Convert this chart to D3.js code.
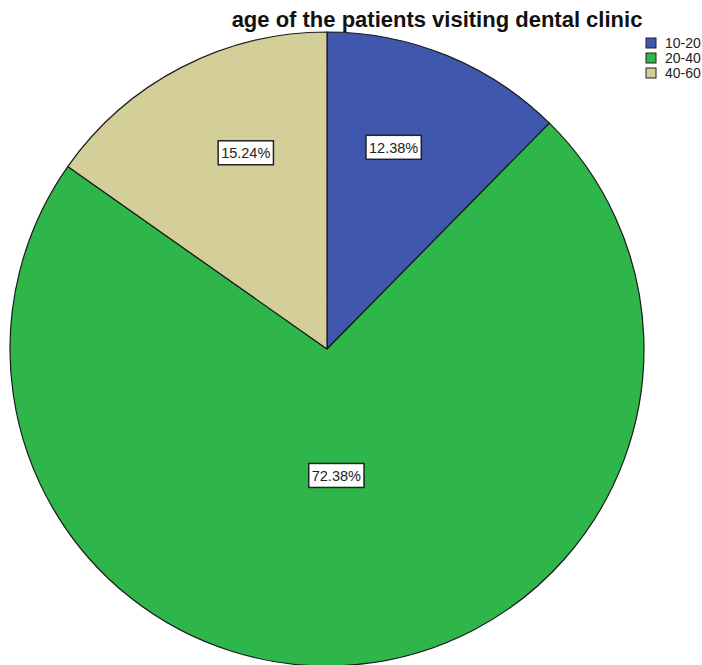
<!DOCTYPE html>
<html>
<head>
<meta charset="utf-8">
<script src="https://cdn.jsdelivr.net/npm/d3@7"></script>
<style>
  html, body { margin: 0; padding: 0; background: #fff; }
  svg { display: block; }
</style>
</head>
<body>
<svg id="chart" width="702" height="665"></svg>
<script>
// Age groups of patients and their share (percent)
const categories = ["10-20", "20-40", "40-60"];
const shares = [12.38, 72.38, 15.24];
const colors = ["#3f57ac", "#2fb64a", "#d4cf98"];
const title = "age of the patients visiting dental clinic";

const width = 702, height = 665;
const cx = 327, cy = 349, R = 317;

const svg = d3.select("#chart");

const color = d3.scaleOrdinal().domain(categories).range(colors);

const data = categories.map((c, i) => ({ cat: c, value: shares[i] }));
const pie = d3.pie().value(d => d.value).sort(null);
const arcs = pie(data);
const arc = d3.arc().innerRadius(0).outerRadius(R);

const g = svg.append("g").attr("transform", `translate(${cx},${cy})`);

g.selectAll("path.slice")
  .data(arcs)
  .join("path")
  .attr("class", "slice")
  .attr("d", arc)
  .attr("fill", d => color(d.data.cat))
  .attr("stroke", "#1a1a1a")
  .attr("stroke-width", 1.2)
  .attr("stroke-linejoin", "round");

// Label position: mid angle eased toward the nearest vertical axis,
// at two thirds of the radius for small slices and 0.4R for large ones
function labelPos(d) {
  const theta = d.endAngle - d.startAngle;
  const mid = (d.startAngle + d.endAngle) / 2;
  const axis = Math.round(mid / Math.PI) * Math.PI;
  const ang = axis + 0.82 * (mid - axis);
  const dist = theta > Math.PI ? 0.4 * R : 0.67 * R;
  return [dist * Math.sin(ang), -dist * Math.cos(ang)];
}

const fmt = v => v.toFixed(2) + "%";

const labels = g.selectAll("g.lbl")
  .data(arcs)
  .join("g")
  .attr("class", "lbl")
  .attr("transform", d => `translate(${labelPos(d)})`);

labels.each(function(d) {
  const sel = d3.select(this);
  const t = sel.append("text")
    .attr("text-anchor", "middle")
    .attr("dy", "0.36em")
    .attr("font-family", "Liberation Sans, Arial, sans-serif")
    .attr("font-size", 14.5)
    .attr("fill", "#222")
    .text(fmt(d.data.value));
  const bb = t.node().getBBox();
  sel.insert("rect", "text")
    .attr("x", bb.x - 3)
    .attr("y", -12)
    .attr("width", bb.width + 6)
    .attr("height", 24)
    .attr("fill", "#fff")
    .attr("stroke", "#222")
    .attr("stroke-width", 1.5);
});

// Title
svg.append("text")
  .attr("x", 437)
  .attr("y", 27)
  .attr("text-anchor", "middle")
  .attr("font-family", "Liberation Sans, Arial, sans-serif")
  .attr("font-weight", "bold")
  .attr("font-size", 22)
  .attr("fill", "#111")
  .text(title);

// Legend
const legend = svg.append("g").attr("transform", "translate(646,38)");
const rows = legend.selectAll("g.row")
  .data(categories)
  .join("g")
  .attr("class", "row")
  .attr("transform", (d, i) => `translate(0,${i * 15})`);

rows.append("rect")
  .attr("width", 10)
  .attr("height", 10)
  .attr("fill", d => color(d))
  .attr("stroke", "#222")
  .attr("stroke-width", 1);

rows.append("text")
  .attr("x", 19)
  .attr("y", 5)
  .attr("dy", "0.36em")
  .attr("font-family", "Liberation Sans, Arial, sans-serif")
  .attr("font-size", 14)
  .attr("fill", "#222")
  .text(d => d);
</script>
</body>
</html>
